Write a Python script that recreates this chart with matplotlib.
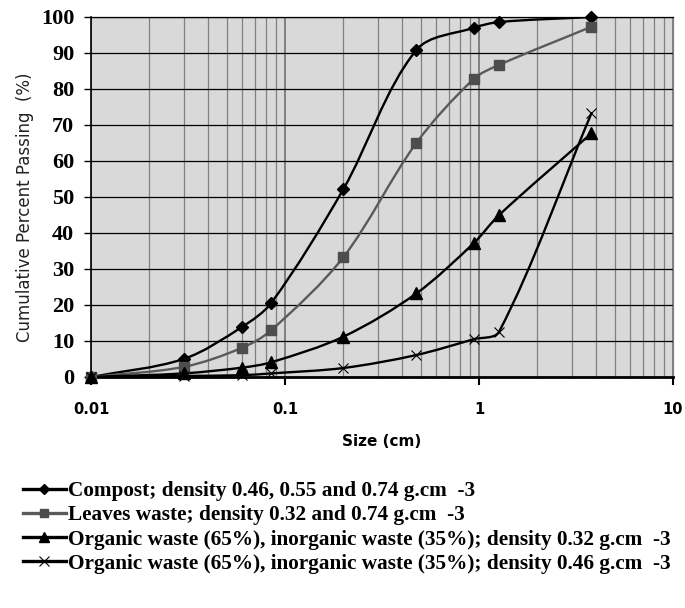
import numpy as np
import matplotlib
matplotlib.use("Agg")
import matplotlib.pyplot as plt
from matplotlib.path import Path
from matplotlib.patches import PathPatch
from matplotlib.lines import Line2D
from matplotlib.ticker import FixedLocator, NullFormatter, FixedFormatter

# sieve sizes (cm) and cumulative percent passing
sizes = [0.01, 0.03, 0.06, 0.085, 0.2, 0.475, 0.94, 1.27, 3.8]
compost = [0, 5, 13.9, 20.6, 52.2, 90.8, 97, 98.6, 100]
leaves = [0, 2.8, 8.1, 13, 33.3, 65, 82.8, 86.7, 97.3]
organic_032 = [0, 1, 2.6, 4.1, 11.2, 23.2, 37.2, 45, 67.7]
organic_046 = [0, 0.3, 0.5, 1, 2.5, 6.1, 10.5, 12.6, 73.3]

labels = ["Compost; density 0.46, 0.55 and 0.74 g.cm  -3",
          "Leaves waste; density 0.32 and 0.74 g.cm  -3",
          "Organic waste (65%), inorganic waste (35%); density 0.32 g.cm  -3",
          "Organic waste (65%), inorganic waste (35%); density 0.46 g.cm  -3"]

y_ticks = [0, 10, 20, 30, 40, 50, 60, 70, 80, 90, 100]
x_major = [0.01, 0.1, 1, 10]
x_major_labels = ["0.01", "0.1", "1", "10"]

# px per decade / per percent, only used to shape the smoothed curve
SX, SY = 194.0, 3.6


def smooth_path(xs, ys, k=0.32):
    """Excel-like smoothed line: cubic bezier through the points (log x)"""
    p = np.column_stack([np.log10(xs) * SX, np.asarray(ys, float) * SY])
    n = len(p)
    tang = np.zeros_like(p)
    for i in range(n):
        a = p[max(i - 1, 0)]
        b = p[min(i + 1, n - 1)]
        d = b - a
        tang[i] = d / np.hypot(*d)
    verts = [p[0]]
    for i in range(n - 1):
        seg = np.hypot(*(p[i + 1] - p[i]))
        verts.append(p[i] + tang[i] * seg * k)
        verts.append(p[i + 1] - tang[i + 1] * seg * k)
        verts.append(p[i + 1])
    verts = np.array(verts)
    verts = np.column_stack([10 ** (verts[:, 0] / SX), verts[:, 1] / SY])
    codes = [Path.MOVETO] + [Path.CURVE4] * (len(verts) - 1)
    return Path(verts, codes)


fig = plt.figure(figsize=(6.85, 6.08), dpi=100)
ax = fig.add_axes([91 / 685, 1 - 377 / 608, 582 / 685, 360 / 608])
ax.set_facecolor("#d9d9d9")
ax.set_xscale("log")
ax.set_xlim(0.01, 10)
ax.set_ylim(0, 100)

series = [
    (compost, "black", dict(marker="D", ms=6, mfc="black", mec="black")),
    (leaves, "#5a5a5a", dict(marker="s", ms=7, mfc="#4d4d4d", mec="#4d4d4d")),
    (organic_032, "black", dict(marker="^", ms=8, mfc="black", mec="black")),
    (organic_046, "black", dict(marker="x", ms=7, mew=0.8, mfc="black", mec="black")),
]
legend_ms = [5, 6, 7, 7]

handles = []
for (vals, lc, mk), lab, lms in zip(series, labels, legend_ms):
    patch = PathPatch(smooth_path(sizes, vals), facecolor="none", edgecolor=lc,
                      lw=1.7, zorder=3, capstyle="round", joinstyle="round")
    ax.add_patch(patch)
    ax.plot(sizes, vals, linestyle="none", zorder=4, clip_on=False, **mk)
    hmk = dict(mk)
    hmk["ms"] = lms
    handles.append(Line2D([], [], color=lc, lw=2.4, **hmk))

# grid
ax.xaxis.set_major_locator(FixedLocator(x_major))
ax.xaxis.set_major_formatter(FixedFormatter(x_major_labels))
minor = [m * 10.0 ** e for e in (-2, -1, 0) for m in range(2, 10)]
ax.xaxis.set_minor_locator(FixedLocator(minor))
ax.xaxis.set_minor_formatter(NullFormatter())
ax.grid(True, axis="x", which="major", color="#707070", lw=1.2)
ax.grid(True, axis="x", which="minor", color="#808080", lw=0.9)
ax.set_yticks(y_ticks)
ax.grid(True, axis="y", which="major", color="black", lw=0.9)
ax.set_axisbelow(True)

ax.tick_params(axis="x", which="major", direction="out", length=6, width=1.5,
               pad=12, labelsize=10.5)
ax.tick_params(axis="x", which="minor", length=0)
ax.tick_params(axis="y", direction="out", length=5, width=1, pad=7)
for t in ax.get_xticklabels():
    t.set_fontweight("bold")
    t.set_family("DejaVu Sans")
for t in ax.get_yticklabels():
    t.set_family("Liberation Serif")
    t.set_fontweight("bold")
    t.set_fontsize(16)

ax.spines["left"].set_color("black")
ax.spines["left"].set_linewidth(1.2)
ax.spines["bottom"].set_color("black")
ax.spines["bottom"].set_linewidth(2)
ax.spines["top"].set_color("black")
ax.spines["top"].set_linewidth(0.9)
ax.spines["right"].set_color("#808080")
ax.spines["right"].set_linewidth(0.9)

ax.set_xlabel("Size (cm)", fontsize=11, fontweight="bold", labelpad=12)
ax.set_ylabel("Cumulative Percent Passing  (%)", fontsize=12, color="#222222")
ax.yaxis.set_label_coords(-0.113, 0.472)
ax.yaxis.label.set_va("center")

fig.legend(handles, labels, loc="upper left", bbox_to_anchor=(23 / 685, 1 - 481 / 608),
           frameon=False, borderpad=0, borderaxespad=0, handlelength=2.0,
           handletextpad=0.1, labelspacing=0.2, numpoints=1,
           prop={"family": "Liberation Serif", "weight": "bold", "size": 15.3})

plt.savefig("out.png", dpi=100)
